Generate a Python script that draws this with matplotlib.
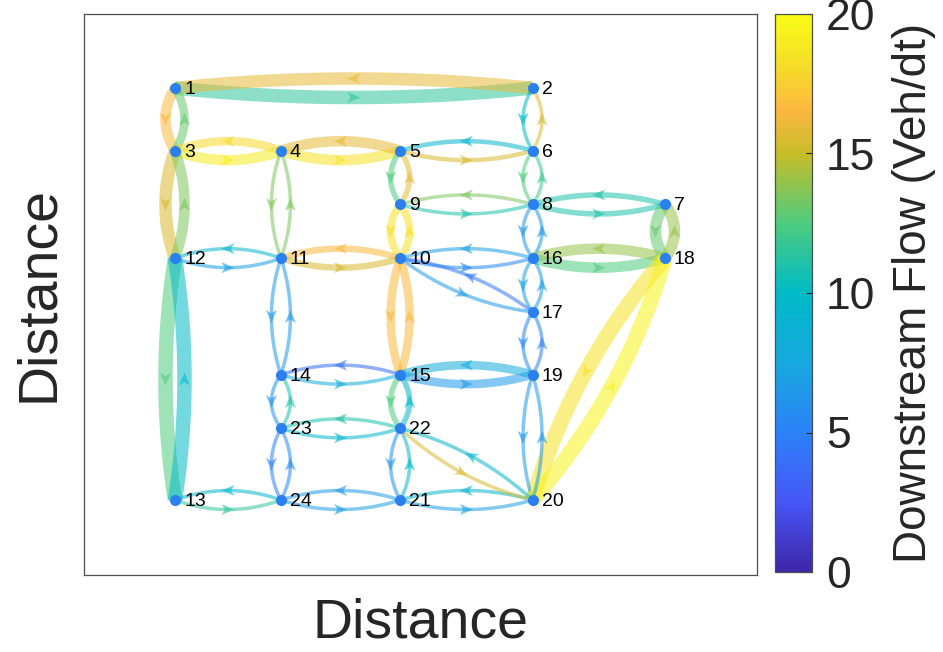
import numpy as np
import matplotlib
matplotlib.use('Agg')
import matplotlib.pyplot as plt
from matplotlib.colors import LinearSegmentedColormap, Normalize
from matplotlib.cm import ScalarMappable
from matplotlib.patches import Polygon

plt.rcParams['font.family'] = ['Liberation Sans', 'DejaVu Sans']

# Sioux Falls node coordinates
node_x = [50000, 320000, 50000, 130000, 220000, 320000, 420000, 320000,
          220000, 220000, 130000, 50000, 50000, 130000, 220000, 320000,
          320000, 420000, 320000, 320000, 220000, 220000, 130000, 130000]
node_y = [510000, 510000, 440000, 440000, 440000, 440000, 380000, 380000,
          380000, 320000, 320000, 320000, 50000, 190000, 190000, 320000,
          260000, 320000, 190000, 50000, 50000, 130000, 130000, 50000]

# directed links (from, to)
link_from = [1, 1, 2, 2, 3, 3, 3, 4, 4, 4, 5, 5, 5, 6, 6, 6, 7, 7, 8, 8,
             8, 8, 9, 9, 9, 10, 10, 10, 10, 10, 11, 11, 11, 11, 12, 12, 12,
             13, 13, 14, 14, 14, 15, 15, 15, 15, 16, 16, 16, 16, 17, 17, 17,
             18, 18, 18, 19, 19, 19, 20, 20, 20, 20, 21, 21, 21, 22, 22, 22,
             22, 23, 23, 23, 24, 24, 24]
link_to = [2, 3, 1, 6, 1, 4, 12, 3, 5, 11, 4, 6, 9, 2, 5, 8, 8, 18, 6, 7,
           9, 16, 5, 8, 10, 9, 11, 15, 16, 17, 4, 10, 12, 14, 3, 11, 13,
           12, 24, 11, 15, 23, 10, 14, 19, 22, 8, 10, 17, 18, 10, 16, 19,
           7, 16, 20, 15, 17, 20, 18, 19, 21, 22, 20, 22, 24, 15, 20, 21,
           23, 14, 22, 24, 13, 21, 23]

flow = [11.5, 16.5, 16.0, 10.0, 13.0, 19.0, 15.5, 18.0, 18.5, 13.5,
        16.0, 15.5, 12.5, 15.5, 9.5, 12.5, 11.0, 13.0, 12.0, 11.0,
        13.5, 6.5, 16.0, 11.0, 18.5, 18.5, 16.5, 16.5, 5.5, 6.5,
        13.5, 15.5, 9.5, 6.5, 13.5, 7.0, 12.5,
        10.0, 11.5, 6.5, 8.0, 6.0, 16.5, 4.0, 6.5, 12.5, 6.5, 7.0, 7.0, 12.5,
        4.5, 7.0, 5.5, 14.0, 14.0, 18.5, 8.0, 5.0, 6.5,
        19.5, 6.5, 9.5, 9.5, 7.0, 9.5, 6.5, 9.5, 15.5, 6.0,
        11.0, 11.0, 9.5, 5.0, 9.5, 7.0, 5.5]

# drawn band width (pixels)
band = [13, 10, 12, 3, 8, 10, 12, 8, 10, 3, 10, 4, 5, 3, 4, 3, 5, 11, 3, 5,
        3, 3, 5, 3, 7, 7, 6, 8, 3, 3, 3, 6, 3, 3, 10, 3, 14,
        14, 3, 3, 3, 3, 8, 3, 8, 5, 3, 3, 3, 10, 3, 3, 3,
        11, 10, 15, 8, 3, 3, 15, 3, 3, 3, 3, 3, 3, 5, 3, 3,
        3, 3, 3, 3, 3, 3, 3]

parula = LinearSegmentedColormap.from_list('parula', [
    (0.00, (0.2422, 0.1504, 0.6603)),
    (0.12, (0.2780, 0.3300, 0.9600)),
    (0.25, (0.1700, 0.5100, 0.9750)),
    (0.375, (0.0900, 0.6600, 0.8700)),
    (0.50, (0.0000, 0.7300, 0.7800)),
    (0.625, (0.3000, 0.8000, 0.5000)),
    (0.75, (0.7800, 0.7400, 0.1600)),
    (0.83, (0.9900, 0.7200, 0.2500)),
    (0.91, (0.9600, 0.8700, 0.1600)),
    (1.00, (0.9769, 0.9839, 0.0805))])
norm = Normalize(0, 20)

fig = plt.figure(figsize=(9.43, 6.52), dpi=100)
ax = fig.add_axes([84 / 943, 1 - 575 / 652, 673 / 943, 561 / 652])
xlim = (-18700, 489500)
ylim = (-33700, 592600)
ax.set_xlim(xlim)
ax.set_ylim(ylim)
sx = 673 / (xlim[1] - xlim[0])
sy = 561 / (ylim[1] - ylim[0])

t = np.linspace(0, 1, 80)[:, None]
for a, b, f, w in zip(link_from, link_to, flow, band):
    p0 = np.array([node_x[a - 1] * sx, node_y[a - 1] * sy])
    p2 = np.array([node_x[b - 1] * sx, node_y[b - 1] * sy])
    d = p2 - p0
    u = d / np.hypot(*d)
    n = np.array([u[1], -u[0]])  # right-hand side of travel
    h = 15 if {a, b} == {18, 20} else 9.5
    mid = (p0 + p2) / 2
    c = mid + 2 * h * n
    pts = (1 - t) ** 2 * p0 + 2 * t * (1 - t) * c + t ** 2 * p2
    col = parula(norm(f))
    ax.plot(pts[:, 0] / sx, pts[:, 1] / sy, color=col, lw=(w + 0.5) * 0.72,
            alpha=0.55, solid_capstyle='butt', zorder=2)
    m = mid + h * n
    head = np.array([m + 6.5 * u, m - 6.5 * u + 5.5 * n, m - 3 * u,
                     m - 6.5 * u - 5.5 * n])
    ax.add_patch(Polygon(np.column_stack([head[:, 0] / sx, head[:, 1] / sy]),
                         closed=True, facecolor=col, edgecolor='none',
                         alpha=0.6, zorder=3))

ax.plot(node_x, node_y, 'o', color='#2b80f0', ms=8, mec='none', zorder=5)
for k in range(len(node_x)):
    ax.annotate(str(k + 1), (node_x[k], node_y[k]), xytext=(6.5, -1),
                textcoords='offset points', ha='left', va='center',
                fontsize=14, zorder=6)

ax.set_xticks([])
ax.set_yticks([])
for s in ax.spines.values():
    s.set_color('#4d4d4d')
    s.set_linewidth(0.9)
ax.set_xlabel('Distance', fontsize=40, color='#262626', labelpad=16)
ax.set_ylabel('Distance', fontsize=40, color='#262626', labelpad=14)

cax = fig.add_axes([775 / 943, 1 - 572 / 652, 37 / 943, 558 / 652])
cb = fig.colorbar(ScalarMappable(norm=norm, cmap=parula), cax=cax,
                  ticks=[0, 5, 10, 15, 20])
cb.outline.set_edgecolor('#4d4d4d')
cb.outline.set_linewidth(0.9)
cax.tick_params(direction='in', length=4, labelsize=32, colors='#262626',
                pad=10)
cb.set_label('Downstream Flow (Veh/dt)', fontsize=33, color='#262626',
             labelpad=12)

fig.savefig('out.png', dpi=100)
